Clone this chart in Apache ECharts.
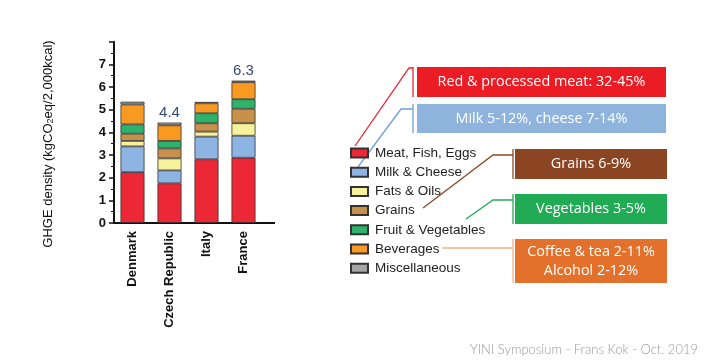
<!DOCTYPE html>
<html><head><meta charset="utf-8">
<script src="https://cdn.jsdelivr.net/npm/echarts@6/dist/echarts.min.js"></script>
<style>html,body{margin:0;padding:0;background:#fff}#c{width:716px;height:361px}</style>
</head><body><div id="c"></div>
<script>
const countries = ['Denmark', 'Czech Republic', 'Italy', 'France'];
const seriesNames = ['Meat, Fish, Eggs', 'Milk & Cheese', 'Fats & Oils', 'Grains', 'Fruit & Vegetables', 'Beverages', 'Miscellaneous'];
const meat = [2.24, 1.75, 2.81, 2.88];
const milk = [1.14, 0.57, 1.00, 0.97];
const fats = [0.24, 0.53, 0.22, 0.55];
const grains = [0.32, 0.44, 0.37, 0.64];
const fruitVeg = [0.41, 0.33, 0.44, 0.42];
const beverages = [0.88, 0.69, 0.44, 0.75];
const misc = [0.12, 0.12, 0.06, 0.07];
const totalLabels = ['', '4.4', '', '6.3'];
const yTicks = [0, 1, 2, 3, 4, 5, 6, 7, 8];
const colors = ['#ec2837', '#8db4e2', '#f6f29c', '#c8914b', '#2eb36c', '#f89a22', '#a5a5a5'];

const values = [meat, milk, fats, grains, fruitVeg, beverages, misc];
const chart = echarts.init(document.getElementById('c'));
const series = seriesNames.map((n, i) => ({
  name: n, type: 'bar', stack: 'total', barWidth: 24,
  data: values[i],
  itemStyle: { color: colors[i], borderColor: '#333', borderWidth: 0.8 },
  label: i === seriesNames.length - 1 ? {
    show: true, position: 'top', distance: 2,
    formatter: p => totalLabels[p.dataIndex],
    color: '#34497a', fontSize: 15, fontFamily: 'Liberation Sans'
  } : { show: false }
}));

const W = '#fff';
function box(x, y, w, h, fill, lines, fs) {
  return [
    { type: 'rect', shape: { x, y, width: w, height: h }, style: { fill } },
    { type: 'text', x: x + w / 2, y: y + h / 2, style: { text: lines, fill: W, font: fs + 'px "Open Sans"', align: 'center', verticalAlign: 'middle', lineHeight: 19 } }
  ];
}
function lineEl(points, color, width) {
  return { type: 'polyline', shape: { points }, style: { stroke: color, lineWidth: width || 1.3, fill: null } };
}

chart.setOption({
  animation: false,
  grid: { left: 114, top: 223 - 8 * 22.67, width: 148, bottom: 138 },
  legend: {
    orient: 'vertical', left: 345, top: 141, itemWidth: 17, itemHeight: 9, itemGap: 5.2,
    icon: 'rect',
    textStyle: { fontSize: 13.5, fontFamily: 'Liberation Sans', color: '#222', lineHeight: 14, padding: [0, 0, 0, 2] },
    data: seriesNames
  },
  xAxis: {
    type: 'category', data: countries,
    axisLine: { lineStyle: { color: '#111', width: 2 } },
    axisTick: { alignWithLabel: true, length: 5, lineStyle: { color: '#111', width: 1.5 } },
    axisLabel: { rotate: 90, margin: 8, fontSize: 13, fontWeight: 'bold', fontFamily: 'Liberation Sans', color: '#111' }
  },
  yAxis: {
    type: 'value', min: 0, max: 8, interval: 1,
    splitLine: { show: false },
    axisLine: { show: true, lineStyle: { color: '#111', width: 2 } },
    axisTick: { show: true, length: 5, lineStyle: { color: '#111', width: 1.5 } },
    minorTick: { show: true, splitNumber: 2, length: 3, lineStyle: { color: '#111', width: 1 } },
    axisLabel: { margin: 8, fontSize: 13, fontWeight: 'bold', fontFamily: 'Liberation Sans', color: '#111',
      formatter: v => (yTicks.indexOf(v) >= 0 && v < 8) ? String(v) : '' }
  },
  series,
  graphic: [
    { type: 'text', x: 48, y: 144, rotation: Math.PI / 2,
      style: { text: '{a|GHGE density (kgCO}{s|2}{a|eq/2,000kcal)}', align: 'center', verticalAlign: 'middle',
        rich: { a: { fontSize: 13, fontFamily: 'Liberation Sans', fill: '#111' }, s: { fontSize: 9, fontFamily: 'Liberation Sans', fill: '#111', verticalAlign: 'bottom', padding: [6, 0, 0, 0] } } } },
    ...box(417, 67, 249, 30, '#ec1c24', 'Red & processed meat: 32-45%', 14.4),
    ...box(417, 104, 249, 29, '#8eb4de', 'Milk 5-12%, cheese 7-14%', 14.4),
    ...box(515, 149, 152, 30, '#8c4522', 'Grains 6-9%', 14.4),
    ...box(515, 194, 152, 30, '#22ab55', 'Vegetables 3-5%', 14.4),
    ...box(515, 239, 152, 44, '#e3712b', 'Coffee & tea 2-11%\nAlcohol 2-12%', 14.4),
    lineEl([[355, 146], [409, 68], [413, 68]], '#e8262e'),
    lineEl([[413, 67], [413, 97]], '#e8262e'),
    lineEl([[358, 167], [401, 109], [413, 109]], '#6f9fd8'),
    lineEl([[413, 104], [413, 133]], '#6f9fd8'),
    lineEl([[423, 208], [493, 155], [513, 155]], '#8b4a23'),
    lineEl([[513, 149], [513, 179]], '#8b4a23'),
    lineEl([[466, 219], [493, 200], [513, 200]], '#22ab55'),
    lineEl([[513, 194], [513, 224]], '#22ab55'),
    lineEl([[442, 248], [513, 248]], '#f4b183'),
    lineEl([[513, 239], [513, 283]], '#f4b183'),
    { type: 'line', shape: { x1: 262, y1: 223, x2: 275, y2: 223 }, style: { stroke: '#111', lineWidth: 2 } },
    { type: 'text', x: 698, y: 350, style: { text: 'YINI Symposium - Frans Kok - Oct. 2019', align: 'right', verticalAlign: 'middle', font: '300 13px Lato', fill: '#9a9a9a' } }
  ]
});
</script></body></html>
